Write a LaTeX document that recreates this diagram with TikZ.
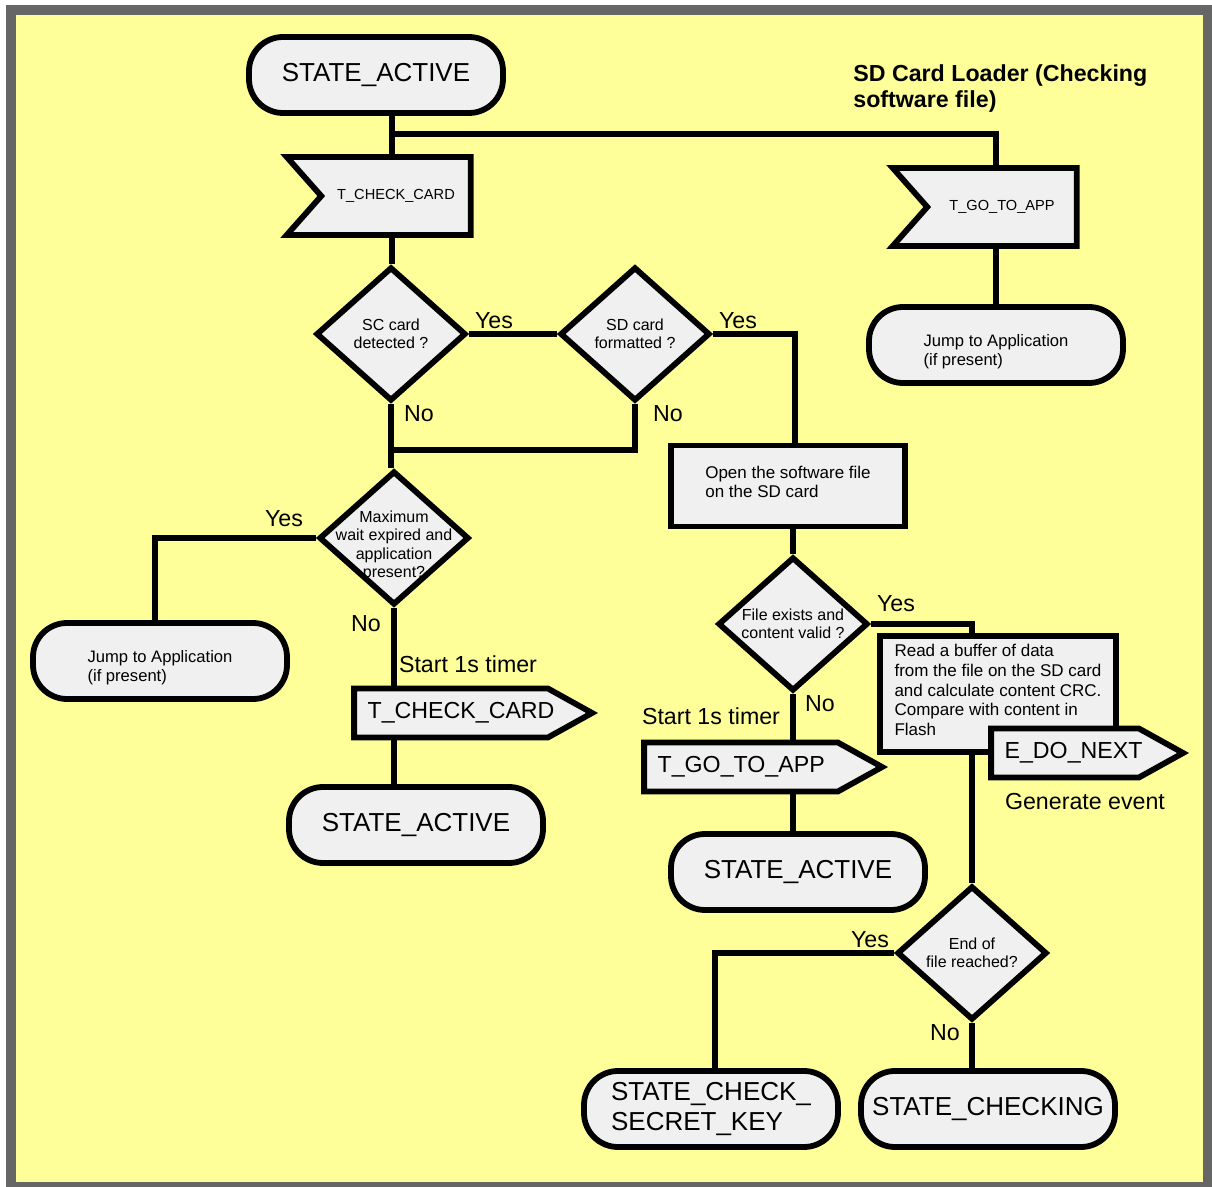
\documentclass[tikz,border=0pt]{standalone}
\usepackage{fontspec}
\setmainfont{Liberation Sans}
\usetikzlibrary{shapes.geometric,shapes.symbols}
\definecolor{bgyellow}{HTML}{FFFF99}
\definecolor{boxgray}{HTML}{F0F0F0}
\definecolor{framegray}{HTML}{666666}

\tikzset{
  wire/.style={line width=2.9pt},
  stateterm/.style={draw, line width=2.9pt, fill=boxgray, rounded corners=17pt,
    minimum width=127pt, minimum height=38pt, align=left, font=\fontsize{13}{15}\selectfont},
  jumpterm/.style={draw, line width=2.9pt, fill=boxgray, rounded corners=17pt,
    minimum width=127pt, minimum height=38pt},
  jumptext/.style={align=left, yshift=-3.5pt, font=\fontsize{8.3}{9.5}\selectfont},
  decision/.style={diamond, draw, line width=2.9pt, fill=boxgray,
    minimum width=75pt, minimum height=67pt},
  dectext/.style={align=center, font=\fontsize{8}{9.2}\selectfont},
  action/.style={draw, line width=2.9pt, fill=boxgray},
  acttext/.style={align=left, yshift=2pt, font=\fontsize{8.5}{9.8}\selectfont},
  receive/.style={signal, signal to=nowhere, signal from=west, signal pointer angle=97,
    draw, line width=2.9pt, fill=boxgray, minimum width=92pt, minimum height=39pt,
    font=\fontsize{7.3}{9}\selectfont},
  send/.style={signal, signal to=east, signal pointer angle=58,
    draw, line width=2.9pt, fill=boxgray, minimum width=119pt, minimum height=24.5pt},
  sendtext/.style={anchor=west, xshift=8pt, font=\fontsize{11.6}{14}\selectfont},
  answer/.style={font=\fontsize{11.6}{13}\selectfont},
}

\begin{document}
\begin{tikzpicture}[x=0.5pt,y=-0.5pt,every node/.style={inner sep=0pt}]
  % page and frame
  \useasboundingbox (0,0) rectangle (1212,1187);
  \fill[white] (0,0) rectangle (1212,1187);
  \fill[framegray] (6,5) rectangle (1212,1187);
  \fill[bgyellow] (16,15) rectangle (1203,1182);

  \node[font=\fontsize{11.6}{13}\selectfont\bfseries, align=left, anchor=north west] (title) at (853,64)
    {SD Card Loader (Checking\\software file)};

  % left column
  \node[stateterm] (sa1) at (376,75) {STATE\_ACTIVE};
  \node[receive] (tcc1) at (396,196) {T\_CHECK\_CARD};
  \node[decision, label={[dectext]center:{SC card\\detected ?}}] (d1) at (391,334) {};
  \node[decision, label={[dectext]center:{SD card\\formatted ?}}] (d2) at (635,334) {};
  \node[decision, label={[dectext,yshift=-4pt]center:{Maximum\\wait expired and\\application\\present?}}] (d3) at (394,538) {};
  \node[jumpterm, label={[jumptext]center:{Jump to Application\\(if present)}}] (jmpL) at (160,661) {};
  \node[send, label={[sendtext]west:{T\_CHECK\_CARD}}] (tcc2) at (451,713) {};
  \node[stateterm] (sa2) at (416,825) {STATE\_ACTIVE};

  % right column
  \node[receive] (tga1) at (1002,207) {T\_GO\_TO\_APP};
  \node[jumpterm, label={[jumptext]center:{Jump to Application\\(if present)}}] (jmpR) at (996,345) {};
  \node[action, minimum width=117pt, minimum height=40.5pt,
    label={[acttext]center:{Open the software file\\on the SD card}}] (open) at (788,486) {};
  \node[decision, label={[dectext]center:{File exists and\\content valid ?}}] (d4) at (793,624) {};
  \node[action, minimum width=118pt, minimum height=58pt,
    label={[acttext]center:{Read a buffer of data\\from the file on the SD card\\and calculate content CRC.\\Compare with content in\\Flash}}] (read) at (998,694) {};
  \node[send, minimum width=96pt, label={[sendtext]west:{E\_DO\_NEXT}}] (edn) at (1065,753) {};
  \node[send, label={[sendtext]west:{T\_GO\_TO\_APP}}] (tga2) at (741,767) {};
  \node[stateterm] (sa3) at (798,872) {STATE\_ACTIVE};
  \node[decision, label={[dectext]center:{End of\\file reached?}}] (d5) at (972,953) {};
  \node[stateterm] (sck) at (711,1109) {STATE\_CHECK\_\\SECRET\_KEY};
  \node[stateterm] (schk) at (988,1109) {STATE\_CHECKING};

  % connectors
  \coordinate (br) at (392,134);
  \coordinate (jn) at (392,450);
  \draw[wire] (sa1.south -| br) -- (tcc1.north -| br);
  \draw[wire] (tcc1.south -| br) -- (br |- d1.north);
  \draw[wire] (br) -| (jmpR.north |- tga1.north);
  \draw[wire] (jmpR.north |- tga1.south) -- (jmpR.north);
  \draw[wire] (d1.east) -- (d2.west);
  \draw[wire] (d2.east) -| ([xshift=3.5pt]open.north);
  \draw[wire] (d1.south) -- (d1.south |- d3.north);
  \draw[wire] (d2.south) |- (jn);
  \draw[wire] (d3.west) -| ([xshift=-2.5pt]jmpL.north);
  \draw[wire] (d3.south) -- (d3.south |- tcc2.north);
  \draw[wire] (d3.south |- tcc2.south) -- (d3.south |- sa2.north);
  \draw[wire] (d4.north |- open.south) -- (d4.north);
  \draw[wire] (d4.east) -| ([xshift=-13pt]read.north);
  \draw[wire] ([xshift=-13pt]read.south) -- (d5.north);
  \draw[wire] (d4.south) -- (d4.south |- tga2.north);
  \draw[wire] (d4.south |- tga2.south) -- (d4.south |- sa3.north);
  \draw[wire] (d5.west) -| ([xshift=2pt]sck.north);
  \draw[wire] (d5.south) -- (d5.south |- schk.north);

  % answers and notes
  \node[answer] (y1) at (494,321) {Yes};
  \node[answer] (y2) at (738,321) {Yes};
  \node[answer] (n1) at (419,414) {No};
  \node[answer] (n2) at (668,414) {No};
  \node[answer] (y3) at (284,519) {Yes};
  \node[answer] (n3) at (366,624) {No};
  \node[answer] (t1) at (468,664) {Start 1s timer};
  \node[answer] (y4) at (896,604) {Yes};
  \node[answer] (n4) at (820,704) {No};
  \node[answer] (t2) at (711,716) {Start 1s timer};
  \node[answer] (ev) at (1085,802) {Generate event};
  \node[answer] (y5) at (870,940) {Yes};
  \node[answer] (n5) at (945,1033) {No};
\end{tikzpicture}
\end{document}
